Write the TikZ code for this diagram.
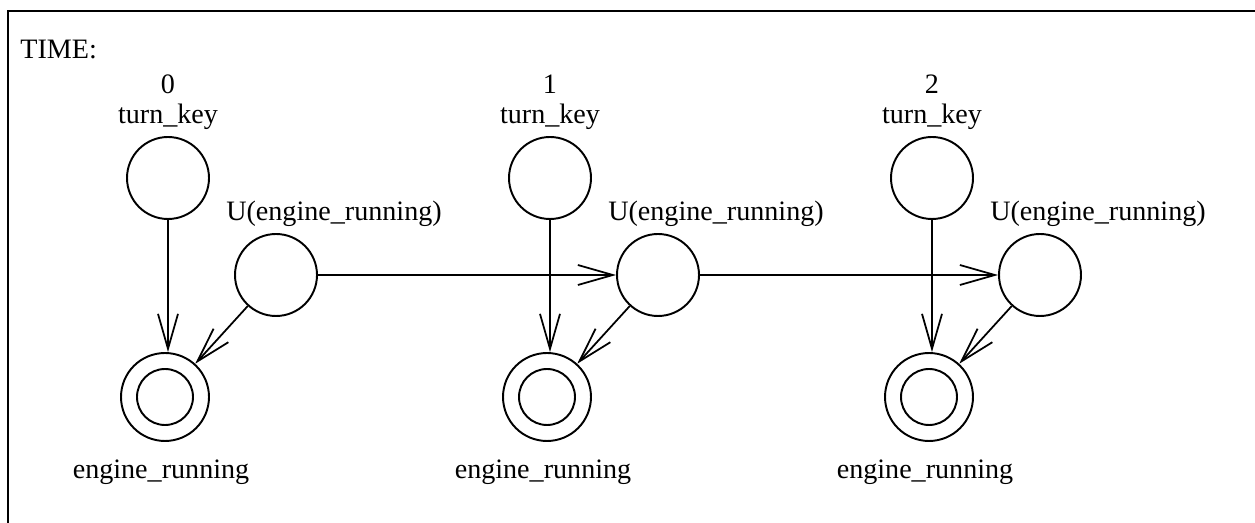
\documentclass[tikz,border=0pt]{standalone}
\usepackage{fontspec}
\setmainfont{Liberation Serif}
\usetikzlibrary{positioning,arrows.meta}
\tikzset{
	state/.style={circle, draw, line width=1.1pt, inner sep=0pt, minimum size=1.64cm},
	final/.style={circle, draw, line width=1.1pt, inner sep=0pt, minimum size=1.76cm,
		path picture={\draw[line width=1.1pt] (path picture bounding box.center) circle[radius=0.56cm];}},
	arr/.style={line width=1pt, -{Straight Barb[length=0.7cm, width=0.4cm, line width=1pt]}}
}
\begin{document}
\begin{tikzpicture}[x=0.02cm, y=-0.02cm, font=\fontsize{16}{19}\selectfont]
	\useasboundingbox (0,0) rectangle (1255,523);
	%frame
	\draw[line width=1pt] (8,523) -- (8,11) -- (1255,11);
	\node[anchor=base west, inner sep=0pt] (time) at (20,59) {TIME:};
	%states
	\foreach \i in {0,1,2}
	{
		\node[state] (turn\i) at (168+382*\i,178) {};
		\node[state] (urun\i) at (276+382*\i,275) {};
		\node[final] (eng\i) at (165+382*\i,397) {};
		\node[above=0pt of turn\i] (turnlab\i) {turn\_key};
		\node[above=-1pt of turnlab\i] (tick\i) {\i};
		\node[above=0pt of urun\i, xshift=1.16cm] (urunlab\i) {U(engine\_running)};
		\node[below=0.23cm of eng\i, xshift=-0.08cm] (englab\i) {engine\_running};
		%arrows
		\draw[arr] (turn\i) -- (turn\i |- eng\i.north);
		\draw[arr] (urun\i) -- (eng\i);
	}
	\foreach \i/\j in {0/1,1/2}
		\draw[arr] (urun\i) -- (urun\j);
\end{tikzpicture}
\end{document}
